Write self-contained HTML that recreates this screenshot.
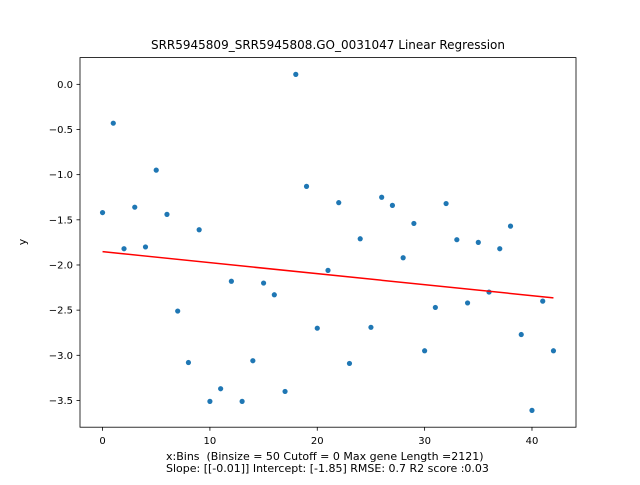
<!DOCTYPE html>
<html><head><meta charset="utf-8"><style>
body{margin:0;background:#fff;}
svg text{font-family:"DejaVu Sans","Liberation Sans",sans-serif;}
</style></head><body>
<svg id="chart" width="640" height="480" xmlns="http://www.w3.org/2000/svg">
<rect width="640" height="480" fill="#fff"/>
<text x="328" y="49" text-anchor="middle" font-size="12">SRR5945809_SRR5945808.GO_0031047 Linear Regression</text>
<g id="plot"></g>
<rect x="80" y="57.6" width="496" height="369.6" fill="none" stroke="#000" stroke-width="0.8"/>
<text transform="translate(26,242) rotate(-90)" text-anchor="middle" font-size="11">y</text>
<text x="166" y="460" font-size="11" style="white-space:pre" xml:space="preserve">x:Bins  (Binsize = 50 Cutoff = 0 Max gene Length =2121)</text>
<text x="166" y="472" font-size="11">Slope: [[-0.01]] Intercept: [-1.85] RMSE: 0.7 R2 score :0.03</text>
</svg>
<script>
const values=[-1.42,-0.43,-1.82,-1.36,-1.80,-0.95,-1.44,-2.51,-3.08,-1.61,-3.51,-3.37,-2.18,-3.51,-3.06,-2.20,-2.33,-3.40,0.11,-1.13,-2.70,-2.06,-1.31,-3.09,-1.71,-2.69,-1.25,-1.34,-1.92,-1.54,-2.95,-2.47,-1.32,-1.72,-2.42,-1.75,-2.30,-1.82,-1.57,-2.77,-3.61,-2.40,-2.95];
const bins=values.map((v,i)=>i);
const xTicks=[0,10,20,30,40];
const yTicks=[0.0,-0.5,-1.0,-1.5,-2.0,-2.5,-3.0,-3.5];
const yTickLabels=["0.0","\u22120.5","\u22121.0","\u22121.5","\u22122.0","\u22122.5","\u22123.0","\u22123.5"];
const NS="http://www.w3.org/2000/svg";
const L=80,R=576,T=57.6,B=427.2;
const xmin=Math.min(...bins),xmax=Math.max(...bins),xpad=(xmax-xmin)*0.05;
const ymn=Math.min(...values),ymx=Math.max(...values),ypad=(ymx-ymn)*0.05;
const X0=xmin-xpad,X1=xmax+xpad,Y0=ymn-ypad,Y1=ymx+ypad;
const sx=v=>L+(v-X0)/(X1-X0)*(R-L);
const sy=v=>B-(v-Y0)/(Y1-Y0)*(B-T);
const g=document.getElementById('plot');
function mk(tag,at){const e=document.createElementNS(NS,tag);for(const k in at)e.setAttribute(k,at[k]);g.appendChild(e);return e;}
xTicks.forEach(t=>{
 const l=mk('line',{x1:sx(t),x2:sx(t),y1:B,y2:B+3.5,stroke:'#000','stroke-width':0.8});
 
 
 const tx=mk('text',{x:sx(t),y:B+17,'text-anchor':'middle','font-size':10});
 tx.textContent=t;
 
 
});
yTicks.forEach((t,i)=>{
 const l=mk('line',{x1:L-3.5,x2:L,y1:sy(t),y2:sy(t),stroke:'#000','stroke-width':0.8});
 
 
 const tx=mk('text',{x:L-7,y:sy(t)+3.5,'text-anchor':'end','font-size':10});
 tx.textContent=yTickLabels[i];
 
 
});
values.forEach((v,i)=>{
 const c=mk('circle',{cx:sx(bins[i]),cy:sy(v),r:2.6,fill:'#1f77b4'});
 
 
});
const n=values.length,mx=bins.reduce((a,b)=>a+b,0)/n,my=values.reduce((a,b)=>a+b,0)/n;
let sxy=0,sxx=0;bins.forEach((x,i)=>{sxy+=(x-mx)*(values[i]-my);sxx+=(x-mx)*(x-mx);});
const slope=sxy/sxx,inter=my-slope*mx;
const ln=mk('line',{x1:sx(xmin),y1:sy(inter+slope*xmin),x2:sx(xmax),y2:sy(inter+slope*xmax),stroke:'#ff0000','stroke-width':1.5});


</script>
</body></html>
